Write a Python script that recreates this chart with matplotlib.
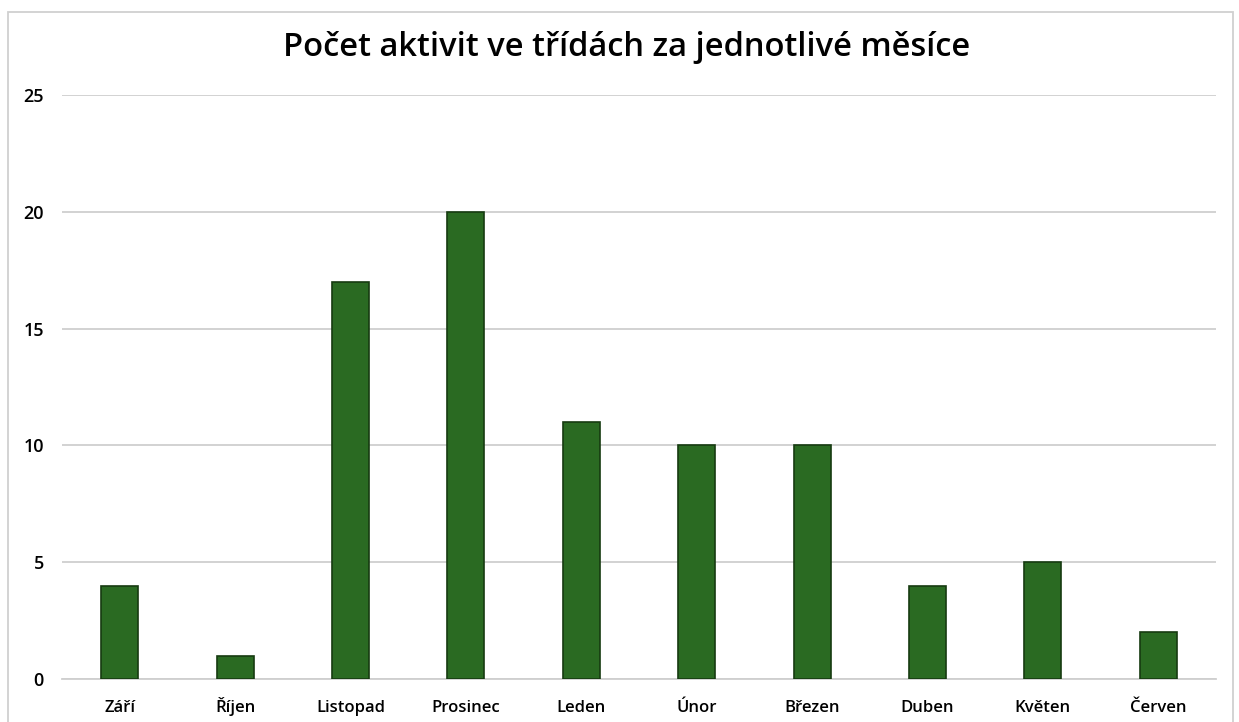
import matplotlib.pyplot as plt
import numpy as np
from matplotlib.patches import Rectangle

months = ['Září', 'Říjen', 'Listopad', 'Prosinec', 'Leden', 'Únor',
          'Březen', 'Duben', 'Květen', 'Červen']
counts = [4, 1, 17, 20, 11, 10, 10, 4, 5, 2]
yticks = [0, 5, 10, 15, 20, 25]
title = 'Počet aktivit ve třídách za jednotlivé měsíce'

plt.rcParams['font.family'] = ['Open Sans', 'DejaVu Sans']

fig = plt.figure(figsize=(12.39, 7.22), dpi=100)
ax = fig.add_axes([62 / 1239, 1 - 679 / 722, (1216 - 62) / 1239, (679 - 95) / 722])

x = np.arange(len(months))
ax.bar(x, counts, width=0.32, color='#2a6a22', edgecolor='#163b11', linewidth=1.2, zorder=3)

ax.set_xlim(-0.5, len(months) - 0.5)
ax.set_ylim(0, 25)
ax.set_yticks(yticks)
ax.set_xticks(x)
ax.set_xticklabels(months, fontsize=12, fontweight='semibold', va='baseline')
ax.set_yticklabels([str(v) for v in yticks], fontsize=13, fontweight='semibold')
ax.tick_params(length=0)
ax.tick_params(axis='x', pad=24)
ax.tick_params(axis='y', pad=13)
ax.grid(axis='y', color='#cfcfcf', linewidth=1.3, zorder=0)
for s in ['top', 'right', 'left']:
    ax.spines[s].set_visible(False)
ax.spines['bottom'].set_color('#cfcfcf')
ax.spines['bottom'].set_linewidth(1.3)

fig.text(627 / 1239, 1 - 48 / 722, title, ha='center', va='center',
         fontsize=23.5, fontweight='semibold')

# chart frame (bottom edge is cut off in the original)
fig.patches.append(Rectangle((8 / 1239, -0.05), (1233 - 8) / 1239, 1.05 - 12 / 722,
                             transform=fig.transFigure, fill=False,
                             edgecolor='#d0d0d0', linewidth=1.3))

fig.savefig('out.png', dpi=100)
